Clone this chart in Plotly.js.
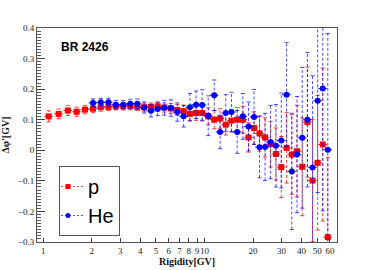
<!DOCTYPE html>
<html><head><meta charset="utf-8">
<script src="https://cdn.plot.ly/plotly-3.0.1.min.js"></script>
<style>html,body{margin:0;padding:0;background:#fff}#chart{width:374px;height:270px}</style>
</head><body><div id="chart"></div>
<script>
// Rigidity bin centres [GV]
const rigidityP = [1.08,1.245,1.42,1.61,1.815,2.035,2.275,2.535,2.82,3.13,3.465,3.83,4.225,4.655,5.125,5.635,6.185,6.78,7.425,8.12,8.87,9.68,10.55,11.5,12.5,13.55,14.7,15.95,17.3,18.75,20.3,21.95,23.75,25.7,27.75,29.95,32.3,34.8,37.5,40.4,43.5,46.8,50.35,54.15,58.2];
const dPhiP = [0.111,0.119,0.130,0.126,0.133,0.136,0.141,0.142,0.144,0.144,0.144,0.142,0.141,0.142,0.144,0.140,0.137,0.132,0.128,0.119,0.122,0.122,0.111,0.100,0.104,0.084,0.097,0.100,0.100,0.042,0.073,0.055,0.042,0.020,-0.012,-0.055,0.008,-0.014,-0.003,-0.054,0.092,-0.099,-0.041,0.019,-0.284];
const errP = [0.018,0.016,0.016,0.015,0.014,0.013,0.013,0.012,0.012,0.012,0.012,0.012,0.013,0.013,0.014,0.015,0.016,0.018,0.020,0.022,0.024,0.026,0.028,0.030,0.032,0.034,0.036,0.040,0.044,0.048,0.053,0.058,0.064,0.075,0.085,0.100,0.115,0.130,0.150,0.160,0.180,0.200,0.220,0.250,0.260];

const rigidityHe = [2.035,2.275,2.535,2.82,3.13,3.465,3.83,4.225,4.655,5.125,5.635,6.185,6.78,7.425,8.12,8.87,9.68,10.55,11.5,12.5,13.55,14.7,15.95,17.3,18.75,20.3,21.95,23.75,25.7,27.75,29.95,32.3,34.8,37.5,40.4,43.5,46.8,50.35,54.15,58.2];
const dPhiHe = [0.155,0.157,0.157,0.149,0.149,0.152,0.152,0.140,0.129,0.135,0.139,0.138,0.125,0.111,0.141,0.149,0.148,0.113,0.180,0.060,0.122,0.125,0.060,0.111,0.078,0.109,0.010,0.011,0.027,0.015,0.032,0.182,-0.069,-0.014,0.041,0.100,-0.056,0.162,0.202,0.002];
const errHe = [0.013,0.013,0.013,0.014,0.014,0.015,0.016,0.018,0.020,0.022,0.024,0.027,0.030,0.035,0.045,0.045,0.050,0.065,0.050,0.055,0.060,0.065,0.070,0.075,0.080,0.090,0.100,0.110,0.120,0.135,0.155,0.170,0.190,0.190,0.230,0.220,0.300,0.300,0.400,0.380];

const xTickVals = [1,2,3,4,5,6,7,8,9,10,20,30,40,50,60];
const xTickText = ['1','2','3','4','5','6','7','8','9','10','20','30','40','50','60'];
const yTickVals = [-0.3,-0.2,-0.1,0,0.1,0.2,0.3,0.4];
const yTickText = ['\u22120.3','\u22120.2','\u22120.1','0','0.1','0.2','0.3','0.4'];

const seriesNames = ['p','He'];
const seriesColors = ['#ff0000','#0000ff'];
const seriesBarColors = ['rgba(255,0,0,0.75)','rgba(0,0,255,0.7)'];
const seriesSymbols = ['square','circle'];

function errorTraces(x, y, e, barColor) {
  const lx = [], ly = [], cx = [], cy = [];
  for (let i = 0; i < x.length; i++) {
    lx.push(x[i], x[i], null);
    ly.push(y[i] - e[i], y[i] + e[i], null);
    cx.push(x[i], x[i]);
    cy.push(y[i] - e[i], y[i] + e[i]);
  }
  return [
    {x: lx, y: ly, type: 'scatter', mode: 'lines', showlegend: false, hoverinfo: 'skip',
     line: {color: barColor, width: 1, dash: '3px,2px'}},
    {x: cx, y: cy, type: 'scatter', mode: 'markers', showlegend: false, hoverinfo: 'skip',
     marker: {symbol: 'line-ew', size: 3, line: {color: barColor, width: 1}}}
  ];
}

function pointTrace(x, y, k) {
  return {x: x, y: y, type: 'scatter', mode: 'markers', showlegend: false, name: seriesNames[k],
    marker: {symbol: seriesSymbols[k], size: 6, color: seriesColors[k]},
    error_x: {type: 'percent', value: 6, width: 0, thickness: 1, color: seriesColors[k]}};
}

function legendTrace(k) {
  return {x: [null], y: [null], type: 'scatter', mode: 'lines+markers', name: seriesNames[k],
    line: {color: seriesBarColors[k], width: 1, dash: '2px,2px'},
    marker: {symbol: seriesSymbols[k], size: 5, color: seriesColors[k]}};
}

const data = [].concat(
  errorTraces(rigidityP, dPhiP, errP, seriesBarColors[0]),
  [pointTrace(rigidityP, dPhiP, 0)],
  errorTraces(rigidityHe, dPhiHe, errHe, seriesBarColors[1]),
  [pointTrace(rigidityHe, dPhiHe, 1)],
  [legendTrace(0), legendTrace(1)]
);

const tickFont = {family: 'Liberation Serif, Times New Roman, serif', size: 9, color: '#222'};
const layout = {
  width: 374, height: 270,
  margin: {l: 37, r: 37, t: 28, b: 28, autoexpand: false},
  paper_bgcolor: '#fff', plot_bgcolor: '#fff',
  showlegend: true,
  xaxis: {
    type: 'log', range: [-0.039, 1.822],
    tickmode: 'array', tickvals: xTickVals, ticktext: xTickText, tickangle: 0,
    ticks: 'inside', ticklen: 4, tickcolor: '#444', tickwidth: 1,
    showline: true, linecolor: '#555', linewidth: 1, mirror: true,
    showgrid: false, zeroline: false, tickfont: tickFont,
    title: {text: '<b>Rigidity[GV]</b>', font: {family: 'Liberation Serif, serif', size: 10, color: '#111'}, standoff: 2}
  },
  yaxis: {
    range: [-0.3, 0.4],
    tickmode: 'array', tickvals: yTickVals, ticktext: yTickText,
    ticks: 'inside', ticklen: 8, tickcolor: '#444', tickwidth: 1,
    minor: {tickmode: 'linear', tick0: 0, dtick: 0.01, ticks: 'inside', ticklen: 4, tickcolor: '#555', tickwidth: 1, showgrid: false},
    showline: true, linecolor: '#555', linewidth: 1, mirror: true,
    showgrid: false, zeroline: false, tickfont: tickFont,
    title: {text: '<b>\u0394\u03c6\'[GV]</b>', font: {family: 'Liberation Serif, serif', size: 10, color: '#111'}, standoff: 6}
  },
  legend: {
    x: 0.0733, y: 0.355, xanchor: 'left', yanchor: 'top',
    bgcolor: '#fff', bordercolor: '#555', borderwidth: 1,
    font: {family: 'Liberation Sans, Arial, sans-serif', size: 20, color: '#000'},
    itemwidth: 30, indentation: -12, tracegroupgap: 0
  },
  annotations: [{
    xref: 'paper', yref: 'paper', x: 0.073, y: 0.911, xanchor: 'left', yanchor: 'middle',
    text: '<b>BR 2426</b>', showarrow: false,
    font: {family: 'Liberation Sans, Arial, sans-serif', size: 12, color: '#000'}
  }]
};

Plotly.newPlot('chart', data, layout, {staticPlot: true, displayModeBar: false});
</script></body></html>
